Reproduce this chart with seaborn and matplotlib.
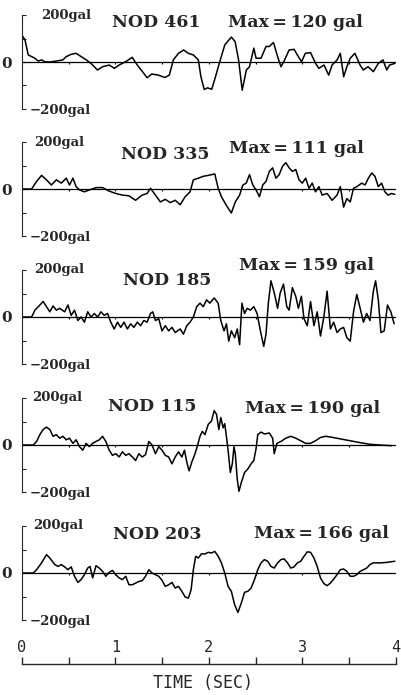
import matplotlib
matplotlib.use("Agg")
import matplotlib.pyplot as plt
import seaborn as sns

sns.set_style("white")
plt.rcParams['font.family'] = ['DejaVu Serif']

# station names and peak values
stations = ["NOD 461", "NOD 335", "NOD 185", "NOD 115", "NOD 203"]
max_gal = [120, 111, 159, 190, 166]

# acceleration records (time in sec, acceleration in gal)
t1 = [0.00, 0.035, 0.07, 0.106, 0.141, 0.176, 0.212, 0.247, 0.30, 0.37, 0.44, 0.476, 0.53, 0.58, 0.635, 0.69, 0.74, 0.81, 0.864, 0.935,
      0.99, 1.04, 1.11, 1.18, 1.235, 1.29, 1.34, 1.39, 1.46, 1.53, 1.577, 1.62, 1.675, 1.73, 1.78, 1.834, 1.887, 1.915, 1.95, 1.986,
      2.03, 2.06, 2.116, 2.17, 2.24, 2.28, 2.317, 2.356, 2.40, 2.434, 2.48, 2.504, 2.557, 2.61, 2.645, 2.69, 2.734, 2.77, 2.80, 2.857,
      2.91, 2.945, 2.99, 3.03, 3.086, 3.14, 3.175, 3.23, 3.28, 3.316, 3.37, 3.404, 3.44, 3.474, 3.51, 3.56, 3.615, 3.65, 3.70, 3.757,
      3.81, 3.86, 3.90, 3.93, 3.986]
a1 = [116, 94, 30, 23, 16, 4, 9, 1, 0, 4, 9, 23, 33, 37, 23, 9, -6, -34, -20, -13,
      -27, -13, 1, 20, -13, -41, -67, -51, -56, -66, -56, 9, 37, 51, 37, 30, 9, -63, -117, -110,
      -116, -77, 1, 73, 106, 87, 9, -120, -34, -20, 59, 16, 16, 66, 66, 83, 23, -20, 1, 51,
      54, 30, 1, 37, 40, -6, -27, -13, -56, -13, 9, 37, -63, -20, 16, 37, -13, -34, -20, -41,
      -6, 9, -34, -13, -6]

t2 = [0, 0.106, 0.159, 0.212, 0.265, 0.317, 0.37, 0.423, 0.476, 0.511, 0.547, 0.582, 0.617, 0.67, 0.723, 0.794, 0.864, 0.935,
      1.005, 1.076, 1.146, 1.217, 1.287, 1.34, 1.376, 1.429, 1.481, 1.534, 1.587, 1.64, 1.693, 1.746, 1.799, 1.834, 1.887, 1.94,
      1.993, 2.063, 2.099, 2.134, 2.187, 2.24, 2.282, 2.328, 2.363, 2.399, 2.434, 2.469, 2.504, 2.54, 2.575, 2.61, 2.646, 2.681,
      2.716, 2.751, 2.787, 2.822, 2.857, 2.892, 2.928, 2.963, 2.998, 3.034, 3.069, 3.104, 3.139, 3.175, 3.21, 3.263, 3.316, 3.369,
      3.404, 3.439, 3.474, 3.51, 3.545, 3.58, 3.633, 3.668, 3.704, 3.739, 3.774, 3.81, 3.845, 3.88, 3.915, 3.951, 3.986]
a2 = [0, 0, 32, 58, 39, 17, 39, 25, 46, 17, 46, 10, -4, -12, -4, 6, 6, -9,
      -19, -26, -29, -48, -26, -19, 3, -26, -55, -44, -58, -48, -67, -33, -12, 39, 46, 54,
      58, 64, 3, -33, -70, -102, -55, -26, 17, 25, 61, 17, -4, -33, 17, 32, 75, 90,
      46, 61, 97, 112, 90, 75, 83, 39, 25, 46, 3, 25, -12, 10, -26, -19, -48, -26,
      10, -77, -41, -55, 3, 10, 25, 17, 46, 68, 54, 10, 25, -12, -26, -19, -23]

t3 = [0, 0.106, 0.141, 0.194, 0.229, 0.265, 0.30, 0.335, 0.37, 0.406, 0.459, 0.494, 0.529, 0.564, 0.60, 0.635, 0.67, 0.705,
      0.741, 0.776, 0.811, 0.846, 0.882, 0.917, 0.952, 0.988, 1.023, 1.058, 1.093, 1.129, 1.164, 1.199, 1.235, 1.27, 1.305, 1.34,
      1.376, 1.40, 1.429, 1.464, 1.499, 1.534, 1.57, 1.605, 1.64, 1.693, 1.728, 1.764, 1.799, 1.834, 1.87, 1.905, 1.94, 1.975,
      2.01, 2.056, 2.099, 2.127, 2.162, 2.187, 2.212, 2.24, 2.275, 2.303, 2.328, 2.353, 2.381, 2.409, 2.444, 2.48, 2.515, 2.55,
      2.586, 2.61, 2.635, 2.663, 2.698, 2.734, 2.762, 2.797, 2.832, 2.857, 2.892, 2.928, 2.956, 2.988, 3.016, 3.051, 3.086, 3.122,
      3.157, 3.192, 3.228, 3.263, 3.298, 3.333, 3.369, 3.404, 3.439, 3.474, 3.51, 3.545, 3.58, 3.616, 3.651, 3.686, 3.721, 3.757,
      3.781, 3.81, 3.838, 3.873, 3.908, 3.944, 3.979]
a3 = [0, 0, 29, 51, 66, 44, 22, 47, 29, 37, 22, 51, 7, 29, -15, 0, -22, 22,
      0, 15, 0, 22, 7, 15, -22, -51, -22, -44, -22, -51, -29, -44, -22, -37, -15, -22,
      15, 22, -15, -7, -59, -37, -59, -44, -66, -51, -73, -37, -22, 0, 44, 59, 44, 73,
      59, 81, 59, -15, -59, -29, -103, -59, -88, -51, -118, 59, 15, 37, 29, 44, 15, -59,
      -125, -73, 59, 154, 103, 37, 103, 140, 44, 29, 125, 88, 37, 88, -7, -37, 66, -37,
      22, -81, 0, 110, -51, -22, -66, -51, -44, -88, -103, 22, 96, 37, -22, 15, -15, 110,
      154, 73, -66, -59, 51, 22, -29]

t4 = [0, 0.123, 0.159, 0.194, 0.229, 0.265, 0.30, 0.335, 0.37, 0.406, 0.441, 0.476, 0.511, 0.547, 0.582, 0.617, 0.653, 0.688,
      0.723, 0.758, 0.794, 0.829, 0.864, 0.899, 0.935, 0.97, 1.005, 1.041, 1.076, 1.111, 1.146, 1.182, 1.217, 1.252, 1.287, 1.323,
      1.358, 1.393, 1.429, 1.464, 1.499, 1.534, 1.57, 1.605, 1.64, 1.675, 1.711, 1.739, 1.764, 1.788, 1.817, 1.852, 1.88, 1.905,
      1.929, 1.958, 1.993, 2.028, 2.056, 2.081, 2.106, 2.127, 2.152, 2.169, 2.187, 2.205, 2.229, 2.25, 2.268, 2.282, 2.303, 2.321,
      2.346, 2.381, 2.416, 2.451, 2.48, 2.504, 2.522, 2.557, 2.593, 2.646, 2.681, 2.698, 2.727, 2.769, 2.822, 2.875, 2.928, 2.981,
      3.034, 3.086, 3.139, 3.192, 3.245, 3.298, 3.404, 3.51, 3.616, 3.721, 3.827, 3.951]
a4 = [0, 0, 15, 44, 66, 76, 66, 37, 44, 29, 37, 22, 29, 7, 22, -7, -22, 7,
      -7, 7, 15, 22, 37, 15, -22, -44, -37, -51, -29, -44, -37, -51, -66, -37, -51, -41,
      15, 0, -37, -7, -22, -44, -51, -80, -51, -29, -51, -22, -73, -110, -73, -37, 0, 37,
      58, 44, 88, 102, 146, 131, 66, 117, 73, 91, 37, -22, -117, -80, -7, -37, -146, -197,
      -160, -117, -102, -80, -66, -15, 44, 55, 47, 51, 29, -37, 7, 15, 29, 37, 29, 18,
      7, 7, 18, 32, 37, 34, 26, 18, 10, 3, 0, -3]

t5 = [0, 0.123, 0.159, 0.212, 0.265, 0.30, 0.353, 0.388, 0.423, 0.459, 0.494, 0.529, 0.564, 0.60, 0.635, 0.67, 0.705, 0.73,
      0.758, 0.794, 0.829, 0.864, 0.899, 0.935, 0.97, 1.005, 1.041, 1.076, 1.111, 1.146, 1.182, 1.217, 1.252, 1.287, 1.323, 1.358,
      1.393, 1.429, 1.464, 1.499, 1.534, 1.57, 1.605, 1.64, 1.675, 1.711, 1.746, 1.781, 1.81, 1.834, 1.859, 1.887, 1.922, 1.958,
      1.993, 2.028, 2.063, 2.099, 2.134, 2.169, 2.205, 2.24, 2.275, 2.31, 2.346, 2.381, 2.416, 2.451, 2.487, 2.522, 2.557, 2.593,
      2.628, 2.663, 2.698, 2.734, 2.769, 2.804, 2.84, 2.875, 2.91, 2.945, 2.981, 3.016, 3.051, 3.086, 3.122, 3.157, 3.192, 3.228,
      3.263, 3.298, 3.333, 3.369, 3.404, 3.439, 3.474, 3.51, 3.545, 3.58, 3.616, 3.651, 3.686, 3.721, 3.757, 3.827, 3.898, 3.986]
a5 = [0, 0, 14, 43, 78, 64, 36, 28, 36, 26, 14, 26, -14, -40, -28, -7, 21, 28,
      -21, 31, 21, 7, -14, 3, 11, -7, -21, -28, -14, -50, -50, -43, -36, -33, -14, 14,
      0, -7, -14, -31, -57, -50, -40, -64, -57, -78, -102, -107, -71, 14, 71, 64, 82, 81,
      88, 85, 92, 71, 43, 0, -57, -78, -135, -168, -128, -82, -78, -64, -28, 14, 43, 57,
      50, 28, 21, 43, 57, 60, 43, 21, 26, 43, 50, 71, 90, 88, 64, 28, -21, -45,
      -54, -43, -26, -7, 14, 17, 7, -14, -14, -7, 7, 14, 21, 36, 43, 43, 45, 50]

times = [t1, t2, t3, t4, t5]
accs = [a1, a2, a3, a4, a5]

# time axis
time_ticks = [0, 1, 2, 3, 4]
half_ticks = [0.5, 1.0, 1.5, 2.0, 2.5, 3.0, 3.5]

# layout (pixels from top of a 402x695 figure)
W, H = 402, 695
x0_px, sec_px = 21.7, 93.6
zero_px = [62, 189, 317, 445, 573]
gal_px = 0.235
ylim = 260
name_pos = [(1.44, 170), (1.53, 145), (1.55, 157), (1.39, 162), (1.45, 162)]
max_pos = [(2.92, 170), (2.94, 174), (3.04, 221), (3.11, 157), (3.20, 170)]
top_lbl_x = [0.21, 0.13, 0.13, 0.11, 0.12]

fig = plt.figure(figsize=(W / 100, H / 100), dpi=100)
ax_w = 4 * sec_px / W
ax_h = 2 * ylim * gal_px / H

for i in range(5):
    bottom = (H - zero_px[i] - ylim * gal_px) / H
    ax = fig.add_axes([x0_px / W, bottom, ax_w, ax_h])
    ax.axhline(0, color='black', lw=0.9, zorder=1)
    ax.vlines(half_ticks, -10, 0, color='black', lw=0.8)
    sns.lineplot(x=times[i], y=accs[i], ax=ax, color='black', lw=1.1, zorder=2)
    ax.set_xlim(0, 4)
    ax.set_ylim(-ylim, ylim)
    for s in ['top', 'right', 'bottom']:
        ax.spines[s].set_visible(False)
    ax.spines['left'].set_bounds(-200, 200)
    ax.spines['left'].set_linewidth(0.8)
    ax.set_xticks([])
    ax.set_yticks([-200, -100, 0, 100, 200])
    ax.set_yticklabels(['', '', '0', '', ''])
    ax.tick_params(axis='y', direction='in', length=3, width=0.8, pad=7, left=True,
                   labelsize=11)
    for lab in ax.get_yticklabels():
        lab.set_fontweight('bold')
    ax.set_xlabel('')
    ax.set_ylabel('')
    ax.text(top_lbl_x[i], 200, '200gal', fontsize=9.5, fontweight='bold', va='center', ha='left')
    ax.text(0.09, -205, '\u2212200gal', fontsize=9.5, fontweight='bold', va='center', ha='left')
    ax.text(name_pos[i][0], name_pos[i][1], stations[i], fontsize=12.5, fontweight='bold',
            va='center', ha='center')
    ax.text(max_pos[i][0], max_pos[i][1], 'Max\u2009=\u2009%d gal' % max_gal[i], fontsize=12.5,
            fontweight='bold', va='center', ha='center')

# time axis at the bottom
axb = fig.add_axes([x0_px / W, (H - 665) / H, ax_w, 0.001])
for s in ['left', 'right', 'bottom']:
    axb.spines[s].set_visible(False)
axb.spines['top'].set_linewidth(1.0)
axb.set_xlim(0, 4)
axb.set_yticks([])
axb.xaxis.tick_top()
axb.set_xticks(time_ticks)
axb.set_xticklabels([str(v) for v in time_ticks], family='DejaVu Sans Mono', fontsize=11)
axb.set_xticks(half_ticks, minor=True)
axb.tick_params(axis='x', which='both', direction='out', length=5, width=1.0, pad=2)
fig.text(203 / W, 1 - 683 / H, 'TIME (SEC)', family='DejaVu Sans Mono', fontsize=12,
         ha='center', va='center')

plt.savefig("out.png", dpi=100)
